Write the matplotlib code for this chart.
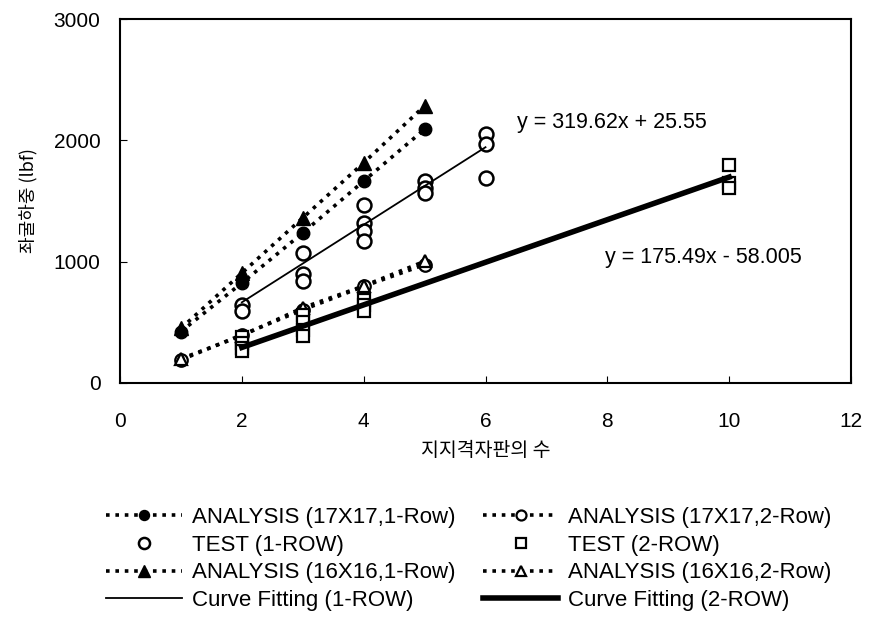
import matplotlib
matplotlib.use("Agg")
import matplotlib.pyplot as plt
import numpy as np

plt.rcParams['font.family'] = ['Liberation Sans', 'Noto Sans CJK KR', 'DejaVu Sans']

# ---- data ----
x_an = [1, 2, 3, 4, 5]
an17_1row = [424, 824, 1237, 1664, 2091]
an16_1row = [450, 906, 1361, 1815, 2284]
an17_2row = [190, 397, 603, 796, 975]
an16_2row = [200, 390, 620, 800, 1003]

test1_x = [2, 2, 3, 3, 3, 4, 4, 4, 4, 5, 5, 5, 6, 6, 6]
test1_y = [640, 590, 1075, 900, 840, 1471, 1320, 1250, 1168, 1664, 1609, 1568, 2050, 1967, 1692]

test2_x = [2, 2, 2, 2, 3, 3, 3, 3, 4, 4, 4, 10, 10, 10]
test2_y = [380, 330, 290, 260, 560, 500, 440, 390, 680, 640, 590, 1800, 1650, 1610]

fit1_slope, fit1_int, fit1_range = 319.62, 25.55, [2, 6]
fit2_slope, fit2_int, fit2_range = 175.49, -58.005, [2, 10]

eq1 = "y = 319.62x + 25.55"
eq2 = "y = 175.49x - 58.005"

xticks = [0, 2, 4, 6, 8, 10, 12]
yticks = [0, 1000, 2000, 3000]

# ---- figure ----
fig = plt.figure(figsize=(8.69, 6.2), dpi=100)
ax = fig.add_axes([120/869, 1-383/620, (851-120)/869, (383-19)/620])

dot = (0, (1.0, 1.6))
lw_dot = 2.6
h1, = ax.plot(x_an, an17_1row, linestyle=dot, lw=lw_dot, color='black', marker='o', ms=9, mfc='black', mec='black')
h3, = ax.plot(x_an, an16_1row, linestyle=dot, lw=lw_dot, color='black', marker='^', ms=10, mfc='black', mec='black')
h5, = ax.plot(x_an, an17_2row, linestyle=dot, lw=lw_dot, color='black', marker='o', ms=9, mfc='white', mec='black', mew=1.6)
h7, = ax.plot(x_an, an16_2row, linestyle=dot, lw=lw_dot, color='black', marker='^', ms=9, mfc='white', mec='black', mew=1.6)

h2, = ax.plot(test1_x, test1_y, linestyle='none', marker='o', ms=10, mfc='white', mec='black', mew=1.8)
h6, = ax.plot(test2_x, test2_y, linestyle='none', marker='s', ms=9, mfc='white', mec='black', mew=1.6)

fx1 = np.array(fit1_range)
fx2 = np.array(fit2_range)
h4, = ax.plot(fx1, fit1_slope*fx1 + fit1_int, '-', color='black', lw=1.3)
h8, = ax.plot(fx2, fit2_slope*fx2 + fit2_int, '-', color='black', lw=4)

ax.text(6.52, 2150, eq1, fontsize=15.5, va='center', ha='left')
ax.text(7.96, 1035, eq2, fontsize=15.5, va='center', ha='left')

ax.set_xlim(0, 12)
ax.set_ylim(0, 3000)
ax.set_xticks(xticks)
ax.set_yticks(yticks)
ax.tick_params(direction='in', labelsize=15, length=5)
ax.tick_params(axis='y', pad=14)
ax.tick_params(axis='x', pad=21)
for s in ax.spines.values():
    s.set_linewidth(1.5)

ax.set_xlabel('지지격자판의 수', fontsize=14, family=['Noto Sans CJK KR', 'DejaVu Sans'], labelpad=6)
ax.set_ylabel('좌굴하중 (lbf)', fontsize=13, family=['Noto Sans CJK KR', 'DejaVu Sans'], labelpad=12)

handles = [h1, h2, h3, h4, h5, h6, h7, h8]
labels = ['ANALYSIS (17X17,1-Row)', 'TEST (1-ROW)', 'ANALYSIS (16X16,1-Row)', 'Curve Fitting (1-ROW)',
          'ANALYSIS (17X17,2-Row)', 'TEST (2-ROW)', 'ANALYSIS (16X16,2-Row)', 'Curve Fitting (2-ROW)']
leg = fig.legend(handles, labels, ncol=2, loc='upper left', bbox_to_anchor=(106/869, 1-507/620),
                 frameon=False, fontsize=16, handlelength=3.4, handletextpad=0.45,
                 columnspacing=1.25, labelspacing=0.3, markerscale=0.8, borderpad=0, borderaxespad=0)

fig.savefig('out.png', dpi=100)
